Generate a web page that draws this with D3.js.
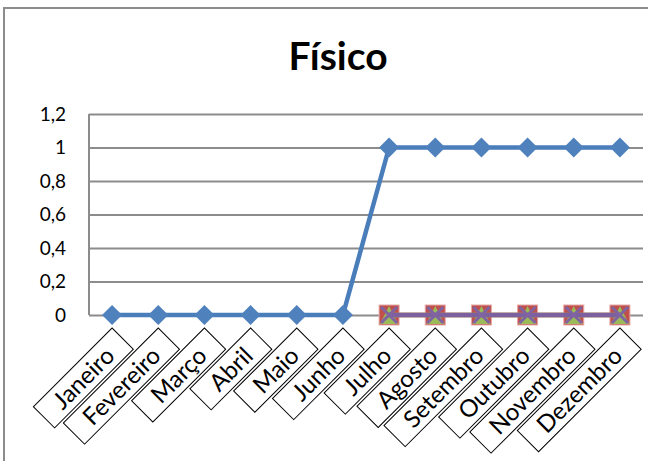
<!DOCTYPE html>
<html>
<head>
<meta charset="utf-8">
<script src="https://cdn.jsdelivr.net/npm/d3@7"></script>
<style>
  body { margin: 0; background: #fff; }
  svg { display: block; font-family: Lato, "Open Sans", sans-serif; }
</style>
</head>
<body>
<div id="chart"></div>
<script>
"use strict";

// chart data
const months = ['Janeiro', 'Fevereiro', 'Março', 'Abril', 'Maio', 'Junho',
	'Julho', 'Agosto', 'Setembro', 'Outubro', 'Novembro', 'Dezembro'];
const fisico = [0, 0, 0, 0, 0, 0, 1, 1, 1, 1, 1, 1];
const serieVermelha = [null, null, null, null, null, null, 0, 0, 0, 0, 0, 0];
const serieVerde = [null, null, null, null, null, null, 0, 0, 0, 0, 0, 0];
const serieRoxa = [null, null, null, null, null, null, 0, 0, 0, 0, 0, 0];
const yTicks = [0, 0.2, 0.4, 0.6, 0.8, 1, 1.2];

const W = 648, H = 461;
const PLOT = { left: 89, right: 643, top: 114, bottom: 315 };
const GRID = '#8c8c8c';

const svg = d3.select('#chart').append('svg')
	.attr('width', W)
	.attr('height', H);

svg.append('rect').attr('width', W).attr('height', H).attr('fill', '#fff');

// outer chart border (right and bottom edges fall outside the picture)
svg.append('rect')
	.attr('x', 4).attr('y', 8)
	.attr('width', W + 20).attr('height', H + 20)
	.attr('fill', 'none')
	.attr('stroke', GRID)
	.attr('stroke-width', 2);

svg.append('text')
	.attr('x', 338).attr('y', 70)
	.attr('text-anchor', 'middle')
	.attr('font-size', 39)
	.attr('font-weight', 'bold')
	.text('Físico');

const x = d3.scaleBand()
	.domain(months)
	.range([PLOT.left, PLOT.right])
	.padding(0);
const cx = d => x(d) + x.bandwidth() / 2;

const y = d3.scaleLinear()
	.domain([0, 1.2])
	.range([PLOT.bottom, PLOT.top]);

// gridlines
const grid = svg.append('g')
	.attr('transform', `translate(${PLOT.left},0)`)
	.call(d3.axisLeft(y).tickValues(yTicks).tickSize(-(PLOT.right - PLOT.left)).tickFormat(''));
grid.select('.domain').remove();
grid.selectAll('line').attr('stroke', GRID).attr('stroke-width', 2);

// y axis line
svg.append('line')
	.attr('x1', PLOT.left).attr('x2', PLOT.left)
	.attr('y1', PLOT.top).attr('y2', PLOT.bottom)
	.attr('stroke', GRID).attr('stroke-width', 2);

// y labels
const yAxis = svg.append('g')
	.attr('transform', `translate(66,0)`)
	.call(d3.axisLeft(y).tickValues(yTicks).tickSize(0).tickPadding(0)
		.tickFormat(d => String(d).replace('.', ',')));
yAxis.select('.domain').remove();
yAxis.selectAll('text')
	.attr('font-size', 19)
	.attr('font-family', 'Lato, sans-serif')
	.attr('fill', '#000');

// category labels in rotated boxes
const labels = svg.append('g').selectAll('g.lbl')
	.data(months)
	.enter().append('g')
	.attr('class', 'lbl')
	.attr('transform', d => `translate(${cx(d)},328) rotate(-45)`);

labels.append('rect')
	.attr('y', 0)
	.attr('height', 30)
	.attr('fill', '#fff')
	.attr('stroke', '#000')
	.attr('stroke-width', 1);

const boxText = labels.append('text')
	.attr('y', 15)
	.attr('dy', '0.36em')
	.attr('text-anchor', 'middle')
	.attr('font-size', 24)
	.text(d => d);

boxText.each(function () {
	const len = this.getComputedTextLength() + 36;
	d3.select(this).attr('x', -len / 2);
	d3.select(this.parentNode).select('rect').attr('x', -len).attr('width', len);
});

// series
const line = d3.line()
	.defined(d => d.v !== null)
	.x(d => cx(d.m))
	.y(d => y(d.v));

const pts = arr => months.map((m, i) => ({ m, v: arr[i] }));

function drawLine(arr, color, w) {
	svg.append('path')
		.datum(pts(arr))
		.attr('fill', 'none')
		.attr('stroke', color)
		.attr('stroke-width', w)
		.attr('stroke-linejoin', 'round')
		.attr('d', line);
}

const markers = (arr) => svg.append('g').selectAll('g')
	.data(pts(arr).filter(d => d.v !== null))
	.enter().append('g')
	.attr('transform', d => `translate(${cx(d.m)},${y(d.v)})`);

// blue series
drawLine(fisico, '#4a7ebb', 4.5);
markers(fisico).append('path')
	.attr('d', 'M0,-10L10,0L0,10L-10,0Z')
	.attr('fill', '#4f81bd');

// red series
drawLine(serieVermelha, '#be4b48', 4.5);
markers(serieVermelha).append('rect')
	.attr('x', -10).attr('y', -10)
	.attr('width', 20).attr('height', 20)
	.attr('fill', '#c0504d')
	.attr('stroke', '#e6a9a7')
	.attr('stroke-width', 1);

// green series
drawLine(serieVerde, '#98b954', 4.5);
markers(serieVerde).append('path')
	.attr('d', 'M0,-9L9,9L-9,9Z')
	.attr('fill', '#9bbb59');

// purple series
drawLine(serieRoxa, '#7d60a0', 4.5);
markers(serieRoxa).append('path')
	.attr('d', 'M-8,-8L8,8M8,-8L-8,8')
	.attr('stroke', '#8064a2')
	.attr('stroke-width', 3);
</script>
</body>
</html>
